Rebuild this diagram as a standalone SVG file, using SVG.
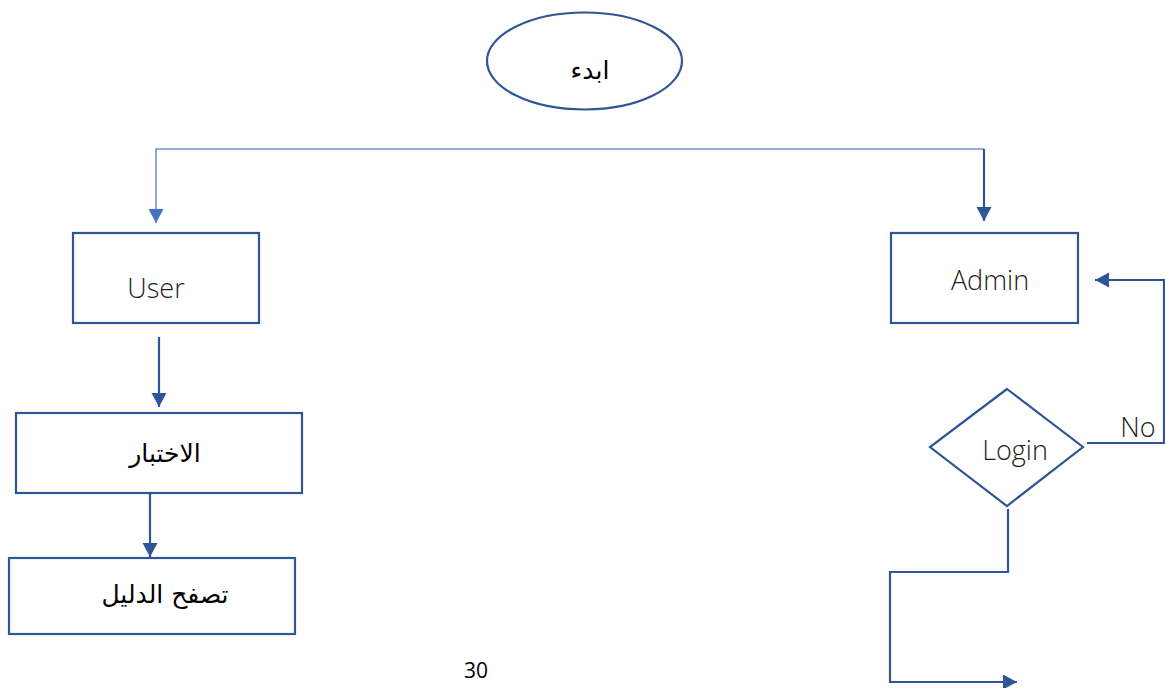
<svg xmlns="http://www.w3.org/2000/svg" width="1165" height="688" viewBox="0 0 1165 688">
<defs>
<marker id="ad" markerUnits="userSpaceOnUse" markerWidth="16" markerHeight="16" refX="14" refY="7.5" orient="auto"><path d="M0,0 L14,7.5 L0,15 z" fill="#2f5597"/></marker>
<marker id="al" markerUnits="userSpaceOnUse" markerWidth="16" markerHeight="16" refX="14" refY="7.5" orient="auto"><path d="M0,0 L14,7.5 L0,15 z" fill="#4472c4"/></marker>
</defs>
<style>
.box{fill:#fff;stroke:#2f5597;stroke-width:2.2}
.c{fill:none;stroke:#2f5597;stroke-width:2.2}
.cl{fill:none;stroke:#6f94d3;stroke-width:1.6}
.lat{font-family:"Open Sans","Liberation Sans",sans-serif;font-weight:300;font-size:27px;fill:#222;text-anchor:middle}
.ar{font-family:"DejaVu Sans","Liberation Sans",sans-serif;font-size:25px;fill:#000;text-anchor:middle;direction:rtl}
</style>
<rect width="1165" height="688" fill="#fff"/>
<g id="connectors">
<path class="cl" d="M984,149 L156,149 L156,223" marker-end="url(#al)"/>
<path class="c" d="M984,149 L984,221" marker-end="url(#ad)"/>
<path class="c" d="M159,337 L159,407" marker-end="url(#ad)"/>
<path class="c" d="M150,493 L150,557" marker-end="url(#ad)"/>
<path class="c" d="M1087,443 L1164,443 L1164,280 L1095,280" marker-end="url(#ad)"/>
<path class="c" d="M1008,509 L1008,572 L890,572 L890,682 L1017,682" marker-end="url(#ad)"/>
<text class="lat" x="1138" y="437">No</text>
</g>
<g id="start">
<ellipse class="box" cx="584.5" cy="61" rx="97.5" ry="48.5"/>
<text class="ar" x="590" y="79">ابدء</text>
</g>
<g id="user">
<rect class="box" x="73" y="233" width="186" height="90"/>
<text class="lat" x="156" y="298">User</text>
</g>
<g id="choice">
<rect class="box" x="16" y="413" width="286" height="80"/>
<text class="ar" x="165" y="462">الاختبار</text>
</g>
<g id="browse">
<rect class="box" x="9" y="558" width="286" height="76"/>
<text class="ar" x="165" y="603">تصفح الدليل</text>
</g>
<g id="admin">
<rect class="box" x="891" y="233" width="187" height="90"/>
<text class="lat" x="990" y="290">Admin</text>
</g>
<g id="login">
<polygon class="box" points="1007,389 1083,447 1007,506 930,447"/>
<text class="lat" x="1015" y="460">Login</text>
</g>
<text x="476" y="678" font-family="Open Sans, Liberation Sans, sans-serif" font-size="21" fill="#000" text-anchor="middle">30</text>
</svg>
